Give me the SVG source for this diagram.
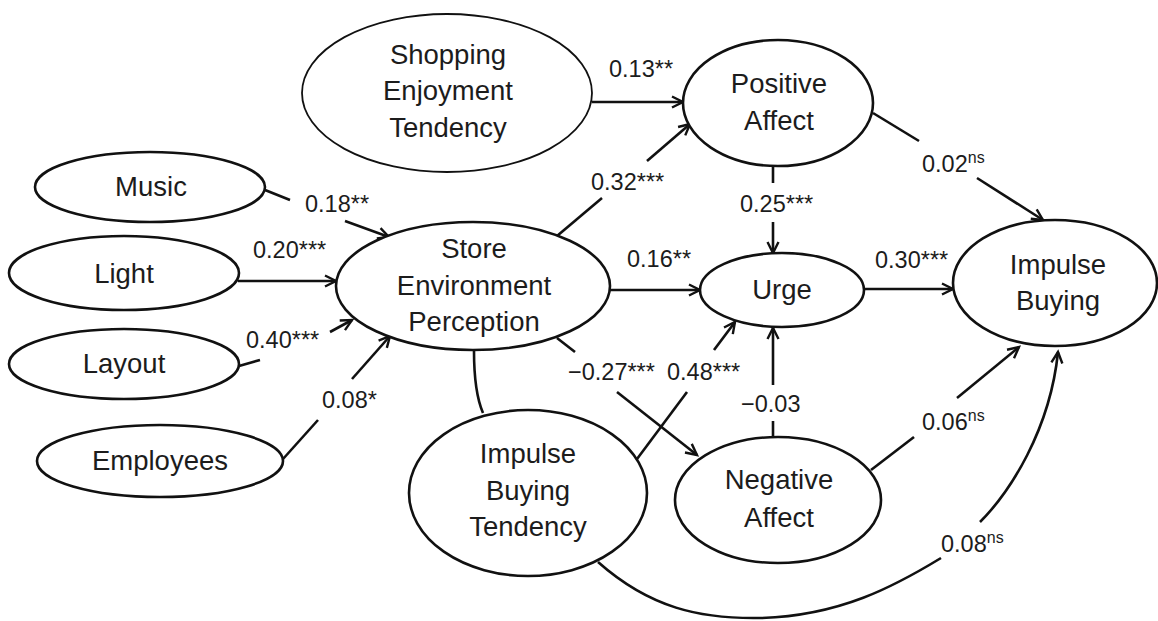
<svg xmlns="http://www.w3.org/2000/svg" width="1158" height="621" viewBox="0 0 1158 621">
  <style>
    .node ellipse { fill: #ffffff; stroke: #111111; stroke-width: 2.6; }
    .node ellipse.thin { stroke-width: 1.8; }
    .node text { font-family: "Liberation Sans", Arial, sans-serif; font-size: 27.5px; fill: #1c1c1c; text-anchor: middle; }
    #connectors line, #connectors path { stroke: #111111; stroke-width: 2.6; fill: none; }
    .lbl { font-family: "Liberation Sans", Arial, sans-serif; font-size: 23.5px; fill: #1c1c1c; }
    .sup { font-size: 16px; }
  </style>
  <defs>
    <marker id="arrow" markerUnits="userSpaceOnUse" viewBox="0 0 14 14" markerWidth="14" markerHeight="14" refX="12" refY="7" orient="auto" overflow="visible">
      <path d="M1,1.5 L12,7 L1,12.5" fill="none" stroke="#111111" stroke-width="2.4" stroke-linejoin="miter"/>
    </marker>
  </defs>

  <rect width="1158" height="621" fill="#ffffff"/>

  <!-- paths between constructs -->
  <g id="connectors">
    <!-- Music -> Store Environment Perception -->
    <line x1="265" y1="190" x2="290" y2="200"/>
    <line x1="345" y1="221" x2="389" y2="237" marker-end="url(#arrow)"/>
    <!-- Light -> SEP -->
    <line x1="238" y1="281" x2="336" y2="281" marker-end="url(#arrow)"/>
    <!-- Layout -> SEP -->
    <line x1="239" y1="366" x2="260" y2="360"/>
    <line x1="330" y1="332" x2="352" y2="320" marker-end="url(#arrow)"/>
    <!-- Employees -> SEP -->
    <line x1="283" y1="459" x2="318" y2="420"/>
    <line x1="352" y1="379" x2="390" y2="336" marker-end="url(#arrow)"/>
    <!-- Shopping Enjoyment Tendency -> Positive Affect -->
    <line x1="592" y1="102" x2="683" y2="102" marker-end="url(#arrow)"/>
    <!-- SEP -> Positive Affect -->
    <line x1="557" y1="236" x2="602" y2="198"/>
    <line x1="647" y1="161" x2="690" y2="124" marker-end="url(#arrow)"/>
    <!-- Positive Affect -> Urge -->
    <line x1="773" y1="166" x2="773" y2="183"/>
    <line x1="773" y1="222" x2="773" y2="253" marker-end="url(#arrow)"/>
    <!-- Positive Affect -> Impulse Buying -->
    <line x1="873" y1="113" x2="919" y2="141"/>
    <line x1="977" y1="178" x2="1043" y2="220" marker-end="url(#arrow)"/>
    <!-- SEP -> Urge -->
    <line x1="610" y1="290" x2="700" y2="290" marker-end="url(#arrow)"/>
    <!-- Urge -> Impulse Buying -->
    <line x1="864" y1="289" x2="953" y2="289" marker-end="url(#arrow)"/>
    <!-- SEP -> Negative Affect -->
    <line x1="557" y1="338" x2="575" y2="352"/>
    <line x1="617" y1="392" x2="697" y2="455" marker-end="url(#arrow)"/>
    <!-- Impulse Buying Tendency -> Urge -->
    <line x1="637" y1="459" x2="687" y2="392"/>
    <line x1="714" y1="350" x2="735" y2="322" marker-end="url(#arrow)"/>
    <!-- Negative Affect -> Urge -->
    <line x1="773" y1="437" x2="773" y2="421"/>
    <line x1="773" y1="385" x2="773" y2="328" marker-end="url(#arrow)"/>
    <!-- Negative Affect -> Impulse Buying -->
    <line x1="871" y1="470" x2="914" y2="437"/>
    <line x1="957" y1="398" x2="1019" y2="347" marker-end="url(#arrow)"/>
    <!-- Impulse Buying Tendency -> Impulse Buying (curved) -->
    <path d="M598,562 C650,608 700,619 760,618 C840,616 895,586 941,558"/>
    <path d="M980,522 C1010,492 1050,430 1058,352" marker-end="url(#arrow)"/>
    <!-- SEP - Impulse Buying Tendency correlation -->
    <path d="M474,351 Q474,392 483,413"/>
  </g>

  <!-- path coefficients -->
  <g id="labels">
    <text class="lbl" x="609" y="77">0.13**</text>
    <text class="lbl" x="591" y="190">0.32***</text>
    <text class="lbl" x="305" y="212">0.18**</text>
    <text class="lbl" x="253" y="258">0.20***</text>
    <text class="lbl" x="246" y="348">0.40***</text>
    <text class="lbl" x="322" y="408">0.08*</text>
    <text class="lbl" x="740" y="212">0.25***</text>
    <text class="lbl" x="922" y="172">0.02<tspan class="sup" dy="-9">ns</tspan></text>
    <text class="lbl" x="627" y="267">0.16**</text>
    <text class="lbl" x="875" y="268">0.30***</text>
    <text class="lbl" x="568" y="380">−0.27***</text>
    <text class="lbl" x="667" y="380">0.48***</text>
    <text class="lbl" x="741" y="412">−0.03</text>
    <text class="lbl" x="922" y="430">0.06<tspan class="sup" dy="-9">ns</tspan></text>
    <text class="lbl" x="941" y="552">0.08<tspan class="sup" dy="-9">ns</tspan></text>
  </g>

  <!-- constructs -->
  <g id="shopping-enjoyment" class="node">
    <ellipse class="thin" cx="447" cy="93" rx="145" ry="79"/>
    <text x="448" y="64">Shopping</text>
    <text x="448" y="100">Enjoyment</text>
    <text x="448" y="137">Tendency</text>
  </g>
  <g id="positive-affect" class="node">
    <ellipse cx="778" cy="103" rx="95" ry="63"/>
    <text x="779" y="93">Positive</text>
    <text x="779" y="130">Affect</text>
  </g>
  <g id="music" class="node">
    <ellipse cx="150" cy="187" rx="115" ry="35"/>
    <text x="151" y="196">Music</text>
  </g>
  <g id="light" class="node">
    <ellipse cx="124" cy="273" rx="115" ry="37"/>
    <text x="124" y="283">Light</text>
  </g>
  <g id="layout" class="node">
    <ellipse cx="124" cy="364" rx="115" ry="35"/>
    <text x="124" y="373">Layout</text>
  </g>
  <g id="employees" class="node">
    <ellipse cx="160" cy="461" rx="123" ry="36"/>
    <text x="160" y="470">Employees</text>
  </g>
  <g id="store-environment" class="node">
    <ellipse cx="473" cy="286" rx="137" ry="64"/>
    <text x="474" y="258">Store</text>
    <text x="474" y="295">Environment</text>
    <text x="474" y="331">Perception</text>
  </g>
  <g id="urge" class="node">
    <ellipse cx="782" cy="290" rx="82" ry="37"/>
    <text x="782" y="299">Urge</text>
  </g>
  <g id="impulse-buying" class="node">
    <ellipse cx="1055" cy="283" rx="102" ry="63"/>
    <text x="1058" y="274">Impulse</text>
    <text x="1058" y="310">Buying</text>
  </g>
  <g id="impulse-buying-tendency" class="node">
    <ellipse cx="528" cy="493" rx="119" ry="83"/>
    <text x="528" y="463">Impulse</text>
    <text x="528" y="500">Buying</text>
    <text x="528" y="536">Tendency</text>
  </g>
  <g id="negative-affect" class="node">
    <ellipse cx="778" cy="500" rx="103" ry="63"/>
    <text x="779" y="489">Negative</text>
    <text x="779" y="527">Affect</text>
  </g>
</svg>
